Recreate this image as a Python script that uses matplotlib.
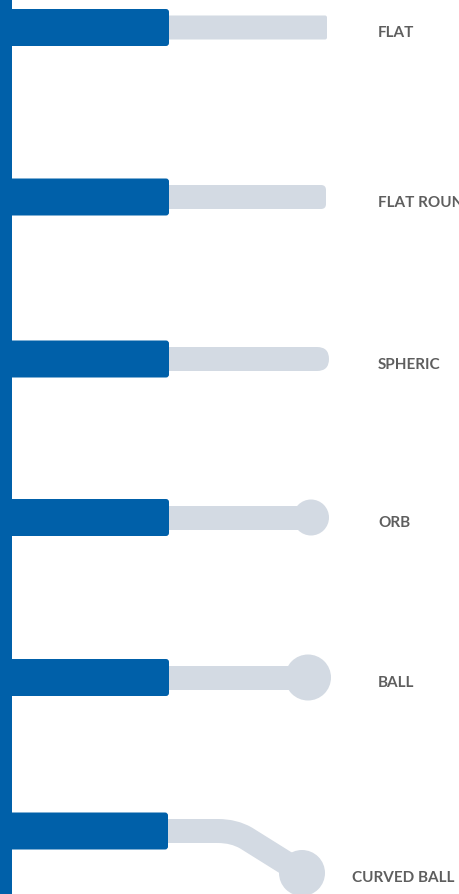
import matplotlib.pyplot as plt
from matplotlib.patches import FancyBboxPatch, Circle, Rectangle
from matplotlib.path import Path
import matplotlib.patches as mpatches

# tip shapes, top to bottom
labels = ["FLAT", "FLAT ROUND", "SPHERIC", "ORB", "BALL", "CURVED BALL"]
base_end = [169, 169, 169, 169, 169, 168]      # end of the blue base bar
tip_end = [327, 326, 329, 311, 308, 302]       # end of the grey shaft (ball centre for ball tips)
tip_round = [2, 5, 12, 0, 0, 0]                # corner rounding of the shaft end
head_r = [0, 0, 0, 18, 23, 23]                 # radius of the ball head
tip_drop = [0, 0, 0, 0, 0, 42]                 # how far the curved tip bends down

# layout
row_y = [28.5, 198, 360, 518.5, 678.5, 832]
label_x = [378, 378, 378, 378, 378, 352]
W, H = 459, 895
BLUE = "#0060A9"
GREY = "#D3DAE3"
TXT = "#5E5E5E"

fig = plt.figure(figsize=(W / 100, H / 100), dpi=100)
ax = fig.add_axes([0, 0, 1, 1])
ax.set_xlim(0, W)
ax.set_ylim(H, 0)
ax.axis("off")

px = 72 / 100  # points per pixel
shaft_h = 24
base_h = 37

for i, lab in enumerate(labels):
  y = row_y[i]
  # grey shaft
  if tip_drop[i] == 0:
    if head_r[i] == 0:
      ax.add_patch(FancyBboxPatch((150, y - shaft_h / 2), tip_end[i] - 150, shaft_h,
                                  boxstyle=f"round,pad=0,rounding_size={tip_round[i]}",
                                  fc=GREY, ec="none", zorder=1))
    else:
      ax.add_patch(Rectangle((150, y - shaft_h / 2), tip_end[i] - 150, shaft_h,
                             fc=GREY, ec="none", zorder=1))
      ax.add_patch(Circle((tip_end[i], y), head_r[i], fc=GREY, ec="none", zorder=1))
    ty = y
  else:
    ty = y + tip_drop[i]
    bend = 218
    verts = [(150, y), (bend, y), (bend + 16, y), (bend + 28, y + 7), (tip_end[i], ty)]
    codes = [Path.MOVETO, Path.LINETO, Path.CURVE3, Path.CURVE3, Path.LINETO]
    ax.add_patch(mpatches.PathPatch(Path(verts, codes), fc="none", ec=GREY,
                                    lw=shaft_h * px, capstyle="butt", joinstyle="round",
                                    zorder=1))
    ax.add_patch(Circle((tip_end[i], ty), head_r[i], fc=GREY, ec="none", zorder=1))

  # blue base
  ax.add_patch(FancyBboxPatch((4, y - base_h / 2), base_end[i] - 4, base_h,
                              boxstyle="round,pad=0,rounding_size=3",
                              fc=BLUE, ec="none", zorder=2))

  ax.text(label_x[i], ty + 8.5, lab, ha="left", va="baseline", fontsize=11,
          fontweight="bold", family=["Lato", "DejaVu Sans"], color=TXT, zorder=3)

# vertical spine
ax.add_patch(Rectangle((0, 0), 12, H, fc=BLUE, ec="none", zorder=3))

fig.savefig("out.png", dpi=100)
